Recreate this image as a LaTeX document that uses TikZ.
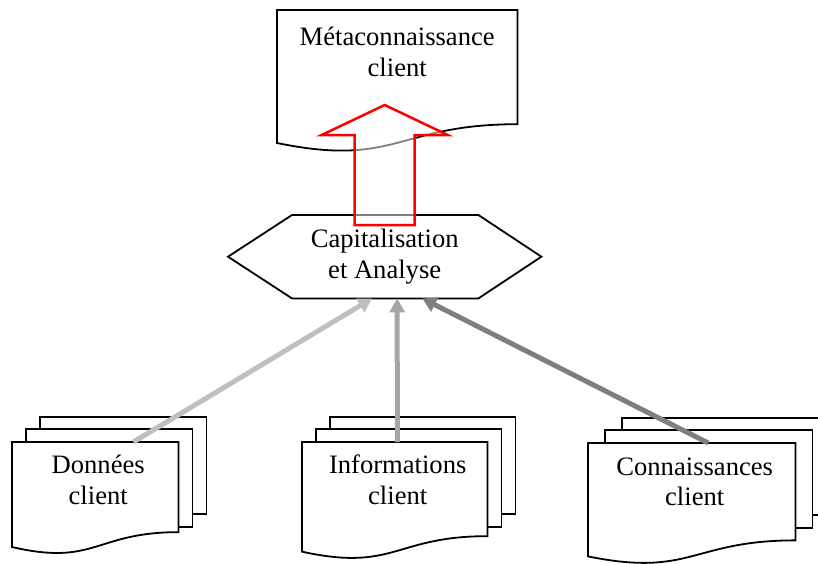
\documentclass[tikz,border=0pt]{standalone}
\usepackage{fontspec}
\setmainfont{Liberation Serif}
\usetikzlibrary{calc,arrows.meta}

\definecolor{feedlight}{HTML}{BFBFBF}
\definecolor{feedmid}{HTML}{A6A6A6}
\definecolor{feeddark}{HTML}{7F7F7F}

\tikzset{
  docbox/.style={draw=none, rectangle, inner sep=0pt, anchor=north west},
  outline/.style={draw=black, line width=1.8pt, fill=white, line join=miter},
  lbl/.style={font=\fontsize{26.6}{30.5}\selectfont, align=center, inner sep=0pt},
  feed/.style={line width=5pt, -{Triangle[length=14pt,width=15pt]}},
  lift/.style={draw=red, line width=2.5pt, fill=white, fill opacity=0.5, line join=miter}
}

% Document symbol with a wavy lower edge, drawn on a node's frame
\newcommand\docoutline[1]{%
  \path[outline] let \p1=(#1.north west), \p2=(#1.south east) in
    (\x1,\y1) -- (\x2,\y1) -- (\x2,{\y1+0.802*(\y2-\y1)})
    .. controls ({0.5*(\x1+\x2)},{\y1+0.802*(\y2-\y1)})
            and ({0.5*(\x1+\x2)},{\y1+1.1075*(\y2-\y1)})
    .. (\x1,{\y1+0.934*(\y2-\y1)}) -- cycle;}

% Two sheets stacked behind a document node (horizontal shift #2)
\newcommand\backpages[2]{%
  \path[outline] let \p1=(#1.north west), \p2=(#1.north east) in
    ({\x1+2*#2pt},{\y1+25pt}) rectangle ({\x2+2*#2pt},{\y1-72pt});
  \path[outline] let \p1=(#1.north west), \p2=(#1.north east) in
    ({\x1+#2pt},{\y1+13pt}) rectangle ({\x2+#2pt},{\y1-85pt});}

\begin{document}
\begin{tikzpicture}[x=1pt,y=-1pt]
  \useasboundingbox (0,0) rectangle (818,563);
  \clip (0,0) rectangle (818,563);

  % Frames of the shapes
  \node[docbox, minimum width=240pt, minimum height=142pt] (meta) at (277,10) {};
  \node[docbox, minimum width=313pt, minimum height=83pt] (cap) at (228,215) {};
  \node[docbox, minimum width=166pt, minimum height=112pt] (donnees) at (12,442) {};
  \node[docbox, minimum width=185pt, minimum height=117pt] (infos) at (302,442) {};
  \node[docbox, minimum width=207pt, minimum height=121pt] (conn) at (588,443) {};

  % Meta-knowledge document
  \docoutline{meta}
  \node[lbl] (meta-text) at ($(meta.north)+(0,42)$) {Métaconnaissance\\client};

  % Processing hexagon
  \draw[outline] (cap.west) -- ($(cap.north west)+(64,0)$) -- ($(cap.north east)+(-63,0)$)
    -- (cap.east) -- ($(cap.south east)+(-63,0)$) -- ($(cap.south west)+(64,0)$) -- cycle;
  \node[lbl] (cap-text) at (cap.center) {Capitalisation\\et Analyse};

  % Hollow block arrow up to the meta-knowledge
  \coordinate (tip) at ($(cap.north)+(0,-110)$);
  \path[lift] ($(cap.north)+(-30,10)$) -- ($(cap.north)+(-30,-80)$) -- ($(cap.north)+(-63,-80)$)
    -- (tip) -- ($(cap.north)+(63,-80)$) -- ($(cap.north)+(30,-80)$) -- ($(cap.north)+(30,10)$) -- cycle;

  % Source document stacks
  \backpages{donnees}{14}
  \docoutline{donnees}
  \node[lbl] (donnees-text) at ($(donnees.north)+(3,38)$) {Données\\client};

  \backpages{infos}{14}
  \docoutline{infos}
  \node[lbl] (infos-text) at ($(infos.north)+(3,38)$) {Informations\\client};

  \backpages{conn}{17}
  \docoutline{conn}
  \node[lbl] (conn-text) at ($(conn.north)+(3,39)$) {Connaissances\\client};

  % Feeds into the hexagon
  \draw[feed, feedlight] ($(donnees.north west)!0.729!(donnees.north east)$) -- ($(cap.south)+(-12.5,0)$);
  \draw[feed, feedmid] ($(infos.north west)!0.514!(infos.north east)$) -- ($(cap.south)+(12.5,0)$);
  \draw[feed, feeddark] ($(conn.north west)!0.58!(conn.north east)$) -- ($(cap.south)+(37.5,0)$);
\end{tikzpicture}
\end{document}
